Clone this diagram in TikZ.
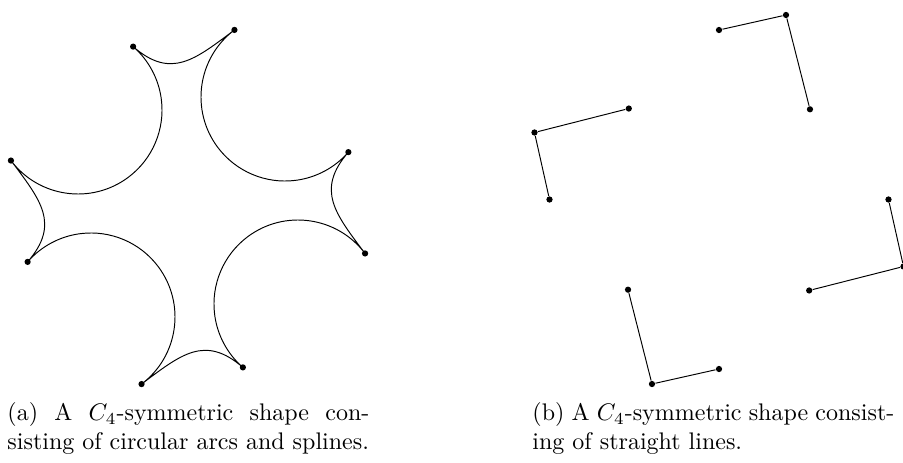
\documentclass[tikz,border=0pt]{standalone}
\usetikzlibrary{calc}
\tikzset{
	pt/.style={circle, fill, inner sep=0pt, minimum size=2.6pt},
	subcap/.style={anchor=north west, inner sep=0pt, text width=150.8pt, align=justify}
}
\begin{document}
\begin{tikzpicture}[x=.4167pt, y=.4167pt]
		\useasboundingbox (0,0) rectangle (903,462);
		\begin{scope}[shift={(188,255)}]
				\foreach \k in {0,...,3}{
						\node[pt] (a\k) at (108.89-90*\k:169.52) {};
						\node[pt] (b\k) at (75.30-90*\k:183.07) {};
					}
				\draw (a0.center)
					\foreach \k in {0,...,3}{
						.. controls +(-41-90*\k:50) and +(217-90*\k:50) .. (b\k.center)
						arc[start angle=127-90*\k, end angle=319-90*\k, radius=84]
					};
			\end{scope}
		\begin{scope}[shift={(719,262.5)}]
				\foreach \k in {0,...,3}{
						\node[pt] (p\k) at (90-90*\k:169.5) {};
						\node[pt] (q\k) at (70.04-90*\k:196.3) {};
						\node[pt] (r\k) at (44.75-90*\k:128.1) {};
						\draw (p\k) -- (q\k) -- (r\k);
					}
			\end{scope}
		\node[subcap] (capa) at (7,60) {(a) A $C_4$-symmetric shape con-\linebreak sisting of circular arcs and splines.};
		\node[subcap] (capb) at (532,60) {(b) A $C_4$-symmetric shape consist-\linebreak ing of straight lines.};
	\end{tikzpicture}
\end{document}
